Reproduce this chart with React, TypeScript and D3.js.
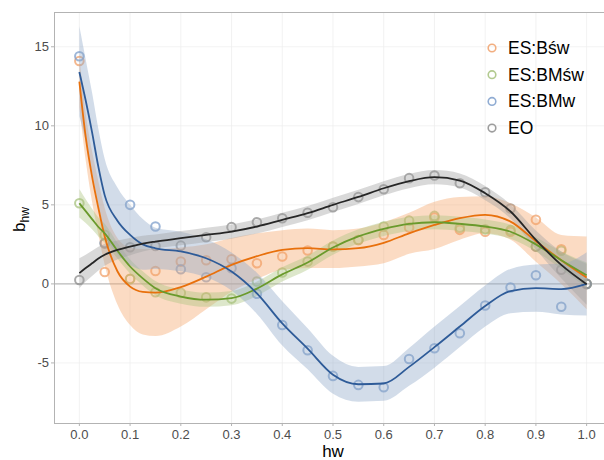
import { useRef, useEffect } from 'react';
import * as d3 from 'd3';

// observed points
const hw = [0, 0.05, 0.1, 0.15, 0.2, 0.25, 0.3, 0.35, 0.4, 0.45, 0.5, 0.55, 0.6, 0.65, 0.7, 0.75, 0.8, 0.85, 0.9, 0.95, 1.0];
const bswPts = [14.1, 0.75, 0.32, 0.82, 1.41, 1.5, 1.56, 1.31, 1.73, 2.11, 2.36, 2.78, 3.1, 3.56, 4.2, 3.42, 3.3, 3.3, 4.05, 2.19, 0.0];
const bmswPts = [5.1, 3.1, 0.3, -0.53, -0.57, -0.85, -0.93, 0.15, 0.72, 1.41, 2.36, 2.78, 3.63, 4.0, 4.3, 3.55, 3.45, 3.4, 2.36, 2.1, 0.0];
const bmwPts = [14.4, 2.6, 5.0, 3.63, 0.93, 0.42, 0.99, -0.62, -2.6, -4.2, -5.82, -6.39, -6.54, -4.75, -4.07, -3.12, -1.37, -0.23, 0.55, -1.45, 0.0];
const eoPts = [0.25, 2.55, 2.32, 2.4, 2.42, 2.95, 3.59, 3.9, 4.15, 4.5, 4.85, 5.49, 5.99, 6.69, 6.86, 6.37, 5.8, 4.77, 2.36, 0.89, 0.0];

// smoothed fits with confidence bands
const fitHw = [0, 0.0125, 0.025, 0.0375, 0.05, 0.075, 0.1, 0.125, 0.15, 0.2, 0.25, 0.3, 0.35, 0.4, 0.45, 0.5, 0.55, 0.6, 0.65, 0.7, 0.75, 0.8, 0.85, 0.9, 0.95, 1.0];

const bswFit = [12.8, 9.3, 6.8, 4.8, 3.0, 0.8, -0.17, -0.5, -0.55, -0.2, 0.46, 1.2, 1.75, 2.15, 2.26, 2.18, 2.26, 2.6, 3.2, 3.73, 4.16, 4.37, 3.94, 2.7, 1.5, 0.4];
const bswLo = [11.2, 7.8, 5.2, 3.1, 1.2, -1.3, -2.6, -3.2, -3.3, -2.7, -1.6, -0.5, 0.3, 0.9, 1.0, 1.0, 1.1, 1.3, 1.9, 2.2, 2.8, 3.2, 2.8, 1.4, 0.0, -1.6];
const bswHi = [14.4, 10.8, 8.4, 6.5, 4.8, 2.9, 2.3, 2.2, 2.2, 2.3, 2.5, 2.9, 3.2, 3.4, 3.5, 3.4, 3.5, 3.9, 4.5, 5.2, 5.5, 5.55, 5.1, 4.2, 3.1, 3.0];

const bmswFit = [5.1, 4.6, 4.1, 3.6, 3.2, 2.1, 1.1, 0.35, -0.27, -0.8, -1.0, -0.9, -0.3, 0.6, 1.35, 2.3, 3.0, 3.48, 3.8, 3.9, 3.8, 3.63, 3.3, 2.5, 1.5, 0.55];
const bmswLo = [4.2, 3.85, 3.45, 3.0, 2.6, 1.6, 0.65, -0.1, -0.72, -1.25, -1.45, -1.35, -0.75, 0.15, 0.9, 1.85, 2.55, 3.03, 3.35, 3.45, 3.35, 3.18, 2.85, 2.05, 0.95, -0.25];
const bmswHi = [6.0, 5.35, 4.75, 4.2, 3.8, 2.6, 1.55, 0.8, 0.18, -0.35, -0.55, -0.45, 0.15, 1.05, 1.8, 2.75, 3.45, 3.93, 4.25, 4.35, 4.25, 4.08, 3.75, 2.95, 2.05, 1.35];

const bmwFit = [13.4, 11.6, 9.6, 7.4, 5.6, 4.0, 3.1, 2.5, 2.25, 2.05, 1.62, 0.78, -0.6, -2.5, -4.1, -5.75, -6.35, -6.3, -5.25, -4.0, -2.7, -1.4, -0.45, -0.27, -0.33, 0.0];
const bmwLo = [10.6, 9.0, 7.1, 5.0, 3.3, 1.9, 1.2, 0.9, 0.95, 0.8, 0.42, -0.42, -1.9, -3.9, -5.4, -6.95, -7.45, -7.4, -6.45, -5.3, -4.0, -2.7, -1.85, -1.77, -1.93, -2.0];
const bmwHi = [16.3, 14.2, 12.1, 9.8, 7.9, 6.1, 5.0, 4.1, 3.55, 3.3, 2.82, 1.98, 0.7, -1.1, -2.8, -4.55, -5.25, -5.2, -4.05, -2.7, -1.4, -0.1, 0.95, 1.23, 1.27, 2.0];

const eoFit = [0.68, 1.0, 1.3, 1.6, 1.84, 2.15, 2.36, 2.55, 2.68, 2.89, 3.1, 3.31, 3.63, 4.05, 4.47, 5.0, 5.5, 6.05, 6.5, 6.75, 6.54, 5.74, 4.58, 2.78, 1.2, -0.02];
const eoLo = [-0.27, 0.15, 0.5, 0.85, 1.14, 1.55, 1.81, 2.05, 2.23, 2.44, 2.65, 2.86, 3.18, 3.6, 4.02, 4.55, 5.05, 5.6, 6.05, 6.3, 6.09, 5.29, 4.13, 2.18, 0.35, -1.32];
const eoHi = [1.63, 1.85, 2.1, 2.35, 2.54, 2.75, 2.91, 3.05, 3.13, 3.34, 3.55, 3.76, 4.08, 4.5, 4.92, 5.45, 5.95, 6.5, 6.95, 7.2, 6.99, 6.19, 5.03, 3.38, 2.05, 1.28];

const xTicks = [0, 0.1, 0.2, 0.3, 0.4, 0.5, 0.6, 0.7, 0.8, 0.9, 1.0];
const yTicks = [-5, 0, 5, 10, 15];

const series = [
  { name: 'ES:Bśw', pts: bswPts, fit: bswFit, lo: bswLo, hi: bswHi, point: '#f0a06a', line: '#e8700c', band: '#f6a56a' },
  { name: 'ES:BMśw', pts: bmswPts, fit: bmswFit, lo: bmswLo, hi: bmswHi, point: '#a6c17c', line: '#6a9a2c', band: '#a9c47e' },
  { name: 'ES:BMw', pts: bmwPts, fit: bmwFit, lo: bmwLo, hi: bmwHi, point: '#7c9ecb', line: '#2e5b98', band: '#8ea8c9' },
  { name: 'EO', pts: eoPts, fit: eoFit, lo: eoLo, hi: eoHi, point: '#8c8c8c', line: '#262626', band: '#a0a0a0' },
];

const App = () => {
  const svgRef = useRef(null);

  useEffect(() => {
    const svg = d3.select(svgRef.current);
    svg.selectAll('*').remove();
    const width = 604;
    const height = 460;
    const left = 54, top = 12, right = 612, bottom = 423;
    const font = 'Liberation Sans, Arial, sans-serif';

    const x = d3.scaleLinear().domain([-0.05, 1.05]).range([left, right]);
    const y = d3.scaleLinear().domain([-8.8, 17.2]).range([bottom, top]);

    svg.attr('width', width).attr('height', height).style('font-family', font);

    svg.append('defs').append('clipPath').attr('id', 'panel')
      .append('rect').attr('x', left).attr('y', top).attr('width', right - left).attr('height', bottom - top);

    // grid
    const grid = svg.append('g');
    grid.selectAll('.gx').data(xTicks).join('line')
      .attr('x1', d => x(d)).attr('x2', d => x(d)).attr('y1', top).attr('y2', bottom)
      .attr('stroke', '#ededed').attr('stroke-width', 0.7);
    grid.selectAll('.gy').data(yTicks).join('line')
      .attr('x1', left).attr('x2', right).attr('y1', d => y(d)).attr('y2', d => y(d))
      .attr('stroke', '#ededed').attr('stroke-width', 0.7);

    svg.append('line')
      .attr('x1', left).attr('x2', right).attr('y1', y(0)).attr('y2', y(0))
      .attr('stroke', '#bdbdbd').attr('stroke-width', 1.1);

    const g = svg.append('g').attr('clip-path', 'url(#panel)');

    // points first
    series.forEach(s => {
      g.append('g').selectAll('circle')
        .data(s.pts.map((v, i) => [hw[i], v]))
        .join('circle')
        .attr('cx', d => x(d[0])).attr('cy', d => y(d[1])).attr('r', 4.3)
        .attr('fill', 'none').attr('stroke', s.point).attr('stroke-width', 2).attr('stroke-opacity', 0.75);
    });

    // bands and fitted lines
    series.forEach(s => {
      const area = d3.area<number>()
        .x((d, i) => x(fitHw[i]))
        .y0((d, i) => y(s.lo[i]))
        .y1((d, i) => y(s.hi[i]))
        .curve(d3.curveMonotoneX);
      g.append('path').attr('d', area(s.fit)).attr('fill', s.band).attr('fill-opacity', 0.4);
    });
    series.forEach(s => {
      const line = d3.line<number>()
        .x((d, i) => x(fitHw[i]))
        .y(d => y(d))
        .curve(d3.curveMonotoneX);
      g.append('path').attr('d', line(s.fit)).attr('fill', 'none')
        .attr('stroke', s.line).attr('stroke-width', 1.8);
    });

    // panel border (top + left visible, right is outside the window)
    svg.append('rect').attr('x', left + 0.5).attr('y', top + 0.5)
      .attr('width', right - left).attr('height', bottom - top)
      .attr('fill', 'none').attr('stroke', '#b3b3b3').attr('stroke-width', 1);

    // axes
    const ax = svg.append('g');
    ax.selectAll('.tx').data(xTicks).join('line')
      .attr('x1', d => x(d)).attr('x2', d => x(d)).attr('y1', bottom).attr('y2', bottom + 3)
      .attr('stroke', '#b3b3b3');
    ax.selectAll('.lx').data(xTicks).join('text')
      .attr('x', d => x(d)).attr('y', bottom + 16)
      .attr('text-anchor', 'middle').attr('font-size', 13).attr('fill', '#4d4d4d')
      .text(d => d3.format('.1f')(d));
    ax.selectAll('.ty').data(yTicks).join('line')
      .attr('x1', left - 3).attr('x2', left).attr('y1', d => y(d)).attr('y2', d => y(d))
      .attr('stroke', '#b3b3b3');
    ax.selectAll('.ly').data(yTicks).join('text')
      .attr('x', left - 5).attr('y', d => y(d) + 4.5)
      .attr('text-anchor', 'end').attr('font-size', 13).attr('fill', '#4d4d4d')
      .text(d => d);

    svg.append('text').attr('x', (left + right) / 2).attr('y', 457)
      .attr('text-anchor', 'middle').attr('font-size', 17).attr('fill', '#000')
      .text('hw');

    const yl = svg.append('text')
      .attr('transform', `translate(25, ${(top + bottom) / 2 + 2}) rotate(-90)`)
      .attr('text-anchor', 'middle').attr('font-size', 17).attr('fill', '#000');
    yl.append('tspan').text('b');
    yl.append('tspan').attr('dy', 4).attr('font-size', 12).text('hw');

    // legend
    const lg = svg.append('g').attr('transform', 'translate(492, 48)');
    series.forEach((s, i) => {
      const row = lg.append('g').attr('transform', `translate(0, ${i * 26.7})`);
      row.append('circle').attr('r', 3.8).attr('fill', 'none')
        .attr('stroke', s.point).attr('stroke-width', 1.6).attr('stroke-opacity', 0.85);
      row.append('text').attr('x', 16).attr('y', 6)
        .attr('font-size', 17.5).attr('fill', '#000').text(s.name);
    });
  }, []);

  return (
    <svg ref={svgRef} style={{ position: 'absolute', left: 0, top: 0 }}></svg>
  );
};

export default App;
